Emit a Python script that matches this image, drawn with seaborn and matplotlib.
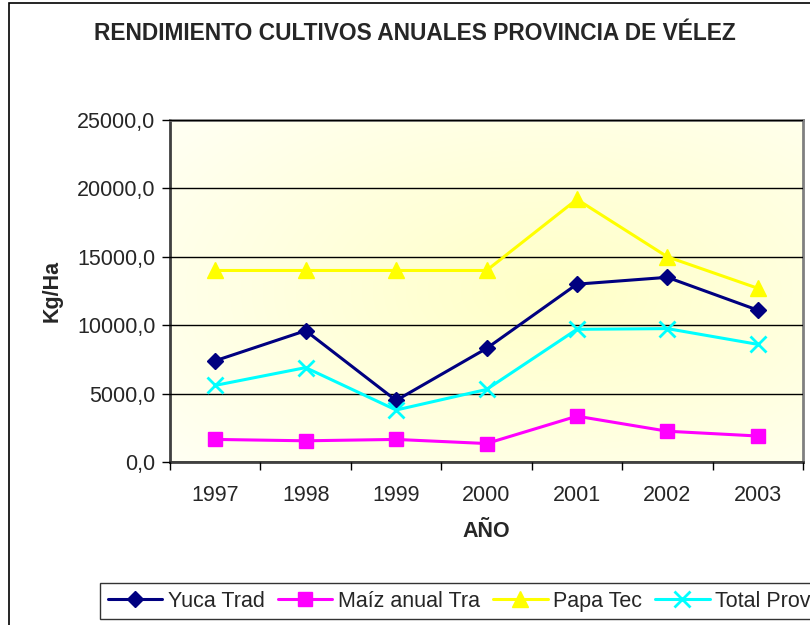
import numpy as np
import pandas as pd
import matplotlib
matplotlib.use("Agg")
import matplotlib.pyplot as plt
from matplotlib.patches import Rectangle
from matplotlib.ticker import FuncFormatter, FixedLocator
import seaborn as sns

# Datos
years = ["1997", "1998", "1999", "2000", "2001", "2002", "2003"]
yuca_trad = [7400, 9600, 4500, 8300, 13000, 13500, 11100]
maiz_anual = [1650, 1550, 1650, 1350, 3350, 2250, 1900]
papa_tec = [14000, 14000, 14000, 14000, 19200, 15000, 12700]
total_prov = [5600, 6900, 3800, 5300, 9700, 9750, 8600]

series_names = ["Yuca Trad", "Maíz anual Tra", "Papa Tec", "Total Prov"]
series_values = [yuca_trad, maiz_anual, papa_tec, total_prov]
colors = ["#000080", "#FF00FF", "#FFFF00", "#00FFFF"]
markers = ["D", "s", "^", "x"]
msizes = [8, 10, 11, 11]

rows = []
for name, vals in zip(series_names, series_values):
    for i, v in enumerate(vals):
        rows.append({"pos": i, "year": years[i], "serie": name, "valor": v})
df = pd.DataFrame(rows)

sns.set_style("white")
plt.rcParams["font.family"] = ["Liberation Sans", "DejaVu Sans"]

fig = plt.figure(figsize=(8.1, 6.25), dpi=100)
ax = fig.add_axes([170 / 810, 1 - 462 / 625, 633 / 810, 342 / 625])

# fondo degradado radial
gx, gy = np.meshgrid(np.linspace(0, 1, 300), np.linspace(0, 1, 300))
r = np.sqrt(((gx - 0.6) / 0.8) ** 2 + ((gy - 0.5) / 0.8) ** 2)
r = np.clip(r, 0, 1)
c0 = np.array([1.0, 1.0, 0.78])
c1 = np.array([1.0, 1.0, 0.96])
img = c0[None, None, :] * (1 - r[..., None]) + c1[None, None, :] * r[..., None]
ax.imshow(img, extent=[-0.5, 6.5, 0, 25000], aspect="auto", zorder=0, origin="lower")

for name, col, mk, ms in zip(series_names, colors, markers, msizes):
    sub = df[df["serie"] == name]
    sns.lineplot(data=sub, x="pos", y="valor", ax=ax, color=col, marker=mk,
                 markersize=ms, linewidth=2.2, markeredgecolor=col,
                 markeredgewidth=2 if mk == "x" else 1, label=name, zorder=3)

ax.set_xlim(-0.5, 6.5)
ax.set_ylim(0, 25000)
ax.set_yticks(np.arange(0, 25001, 5000))
ax.yaxis.set_major_formatter(FuncFormatter(lambda v, p: f"{v:.1f}".replace(".", ",")))
ax.xaxis.set_major_locator(FixedLocator(np.arange(-0.5, 7, 1)))
ax.xaxis.set_minor_locator(FixedLocator(np.arange(0, 7)))
ax.set_xticklabels([""] * 8)
ax.set_xticklabels(years, minor=True)
ax.tick_params(axis="x", which="major", length=6, width=1, color="black", direction="out", bottom=True)
ax.tick_params(axis="x", which="minor", length=0, labelsize=15.5, pad=16.5)
ax.tick_params(axis="y", length=6, width=1, color="black", direction="out", labelsize=15.5, left=True, pad=4.5)

ax.grid(axis="y", color="black", linewidth=1)
ax.set_axisbelow(False)
for g in ax.get_ygridlines():
    g.set_zorder(1)
for s in ["top", "right"]:
    ax.spines[s].set_color("#808080")
    ax.spines[s].set_linewidth(2)
for s in ["left", "bottom"]:
    ax.spines[s].set_color("#404040")
    ax.spines[s].set_linewidth(2)

ax.set_xlabel("AÑO", fontsize=15.5, fontweight="bold", labelpad=11)
ax.set_ylabel("Kg/Ha", fontsize=15.5, fontweight="bold", labelpad=10)
fig.text(415 / 810, 1 - 33 / 625, "RENDIMIENTO CULTIVOS ANUALES PROVINCIA DE VÉLEZ",
         ha="center", va="center", fontsize=16.4, fontweight="bold")

leg = ax.legend(loc="upper left", bbox_to_anchor=(100 / 810, 1 - 583 / 625),
                bbox_transform=fig.transFigure, ncol=4, frameon=True, fancybox=False,
                fontsize=15.5, handlelength=2.55, handletextpad=0.25, columnspacing=0.6,
                borderpad=0.35, borderaxespad=0)
leg.get_frame().set_edgecolor("black")
leg.get_frame().set_linewidth(1)

# borde del grafico
fig.patches.append(Rectangle((9 / 810, -0.1), 1.2, 1 - 3 / 625 + 0.1, transform=fig.transFigure,
                             fill=False, edgecolor="black", linewidth=1.2, zorder=0))

fig.savefig("out.png", dpi=100)
